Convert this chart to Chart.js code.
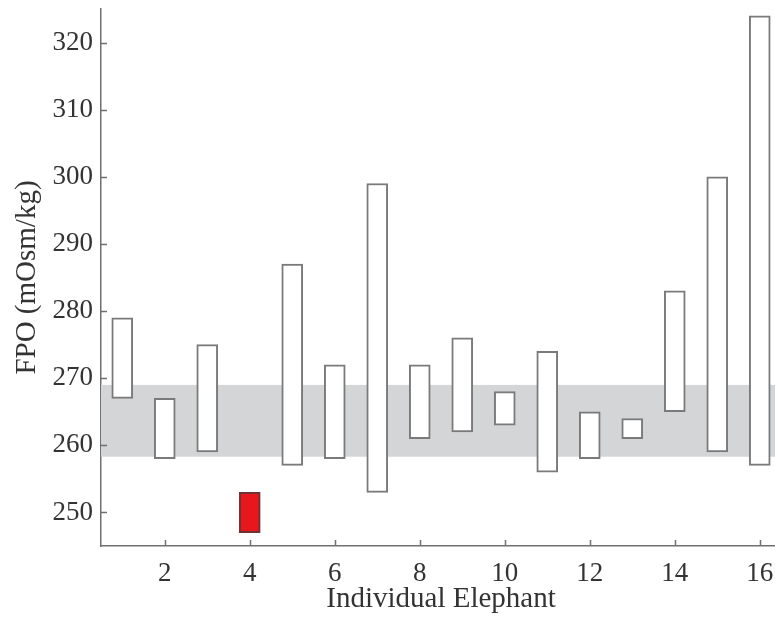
<!DOCTYPE html>
<html>
<head>
<meta charset="utf-8">
<script src="https://cdn.jsdelivr.net/npm/chart.js@4"></script>
<style>
  html, body { margin: 0; padding: 0; background: #fff; overflow: hidden; }
  #wrap { width: 790px; height: 618px; }
</style>
</head>
<body>
<div id="wrap"><canvas id="fpoChart" width="790" height="618"></canvas></div>
<script>
// Individual elephants
const elephants = ["1", "2", "3", "4", "5", "6", "7", "8", "9", "10", "11", "12", "13", "14", "15", "16"];

// FPO range per elephant (mOsm/kg)
const fpoLow = [267, 258, 259, 247, 257, 258, 253, 261, 262, 263, 256, 258, 261, 265, 259, 257];
const fpoHigh = [279, 267, 275, 253, 287, 272, 299, 272, 276, 268, 274, 265, 264, 283, 300, 324];

// Reference band
const bandLow = 258.3;
const bandHigh = 269;

// Axis ticks
const yTickValues = [250, 260, 270, 280, 290, 300, 310, 320];
const xTickLabels = ["2", "4", "6", "8", "10", "12", "14", "16"];

// Elephant shown in red
const highlighted = "4";

const AXIS_COLOR = "#707070";
const TEXT_COLOR = "#333333";
const FONT = "'Liberation Serif', 'DejaVu Serif', serif";

const ranges = elephants.map((e, i) => [fpoLow[i], fpoHigh[i]]);

// grey band behind the bars
const bandPlugin = {
  id: "band",
  beforeDatasetsDraw(chart) {
    const { ctx, chartArea, scales } = chart;
    const top = scales.y.getPixelForValue(bandHigh);
    const bottom = scales.y.getPixelForValue(bandLow);
    ctx.save();
    ctx.fillStyle = "#d4d5d7";
    ctx.fillRect(chartArea.left, top, chartArea.right - chartArea.left, bottom - top);
    ctx.restore();
  },
};

// tick marks pointing into the plot
const innerTicksPlugin = {
  id: "innerTicks",
  afterDraw(chart) {
    const { ctx, chartArea, scales } = chart;
    ctx.save();
    ctx.strokeStyle = AXIS_COLOR;
    ctx.lineWidth = 1.5;
    ctx.beginPath();
    yTickValues.forEach((v) => {
      const y = Math.round(scales.y.getPixelForValue(v)) + 0.5;
      ctx.moveTo(chartArea.left, y);
      ctx.lineTo(chartArea.left + 6, y);
    });
    xTickLabels.forEach((lab) => {
      const x = Math.round(scales.x.getPixelForValue(elephants.indexOf(lab))) + 0.5;
      ctx.moveTo(x, chartArea.bottom);
      ctx.lineTo(x, chartArea.bottom - 6);
    });
    ctx.stroke();
    ctx.restore();
  },
};

new Chart(document.getElementById("fpoChart"), {
  type: "bar",
  data: {
    labels: elephants,
    datasets: [
      {
        data: ranges,
        backgroundColor: (c) => (elephants[c.dataIndex] === highlighted ? "#e8161d" : "#ffffff"),
        borderColor: (c) => (elephants[c.dataIndex] === highlighted ? "#6e3434" : "#7a7a7a"),
        borderWidth: 2,
        borderSkipped: false,
        barThickness: 21,
      },
    ],
  },
  options: {
    responsive: false,
    animation: false,
    layout: { padding: { top: 9, right: 9, left: 0, bottom: 0 } },
    plugins: {
      legend: { display: false },
      tooltip: { enabled: false },
    },
    scales: {
      x: {
        type: "category",
        offset: true,
        grid: { display: false, drawTicks: false },
        border: { display: true, color: AXIS_COLOR, width: 1.5 },
        ticks: {
          autoSkip: false,
          maxRotation: 0,
          padding: 12,
          color: TEXT_COLOR,
          font: { family: FONT, size: 27 },
          callback: function (value) {
            const lab = this.getLabelForValue(value);
            return xTickLabels.includes(lab) ? lab : null;
          },
        },
        title: {
          display: true,
          text: "Individual Elephant",
          color: TEXT_COLOR,
          font: { family: FONT, size: 29 },
          padding: { top: 0, bottom: 1 },
        },
        afterFit: (scale) => {
          scale.height = 72;
          scale.paddingLeft = 0;
          scale.paddingRight = 0;
        },
      },
      y: {
        type: "linear",
        min: 245,
        max: 325,
        grid: { display: false, drawTicks: false },
        border: { display: true, color: AXIS_COLOR, width: 1.5 },
        afterBuildTicks: (scale) => {
          scale.ticks = yTickValues.map((v) => ({ value: v }));
        },
        ticks: {
          padding: 8,
          color: TEXT_COLOR,
          font: { family: FONT, size: 27 },
        },
        title: {
          display: true,
          text: "FPO (mOsm/kg)",
          color: TEXT_COLOR,
          font: { family: FONT, size: 29 },
          padding: { top: 10, bottom: 0 },
        },
        afterFit: (scale) => {
          scale.width = 101;
          scale.paddingTop = 0;
          scale.paddingBottom = 0;
        },
      },
    },
  },
  plugins: [bandPlugin, innerTicksPlugin],
});
</script>
</body>
</html>
